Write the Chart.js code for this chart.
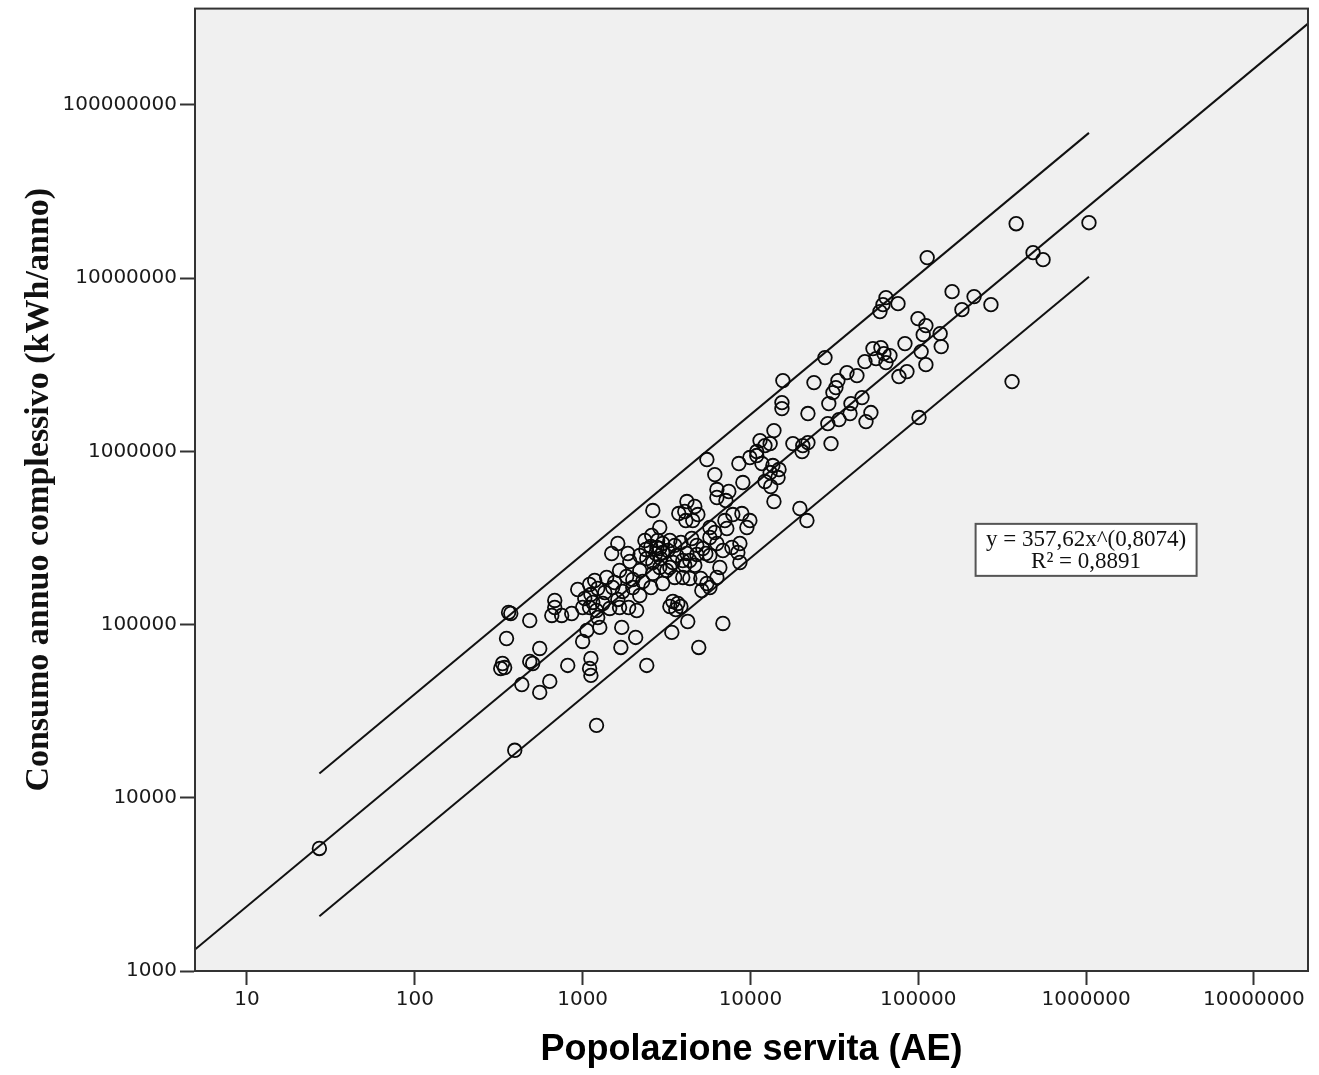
<!DOCTYPE html>
<html>
<head>
<meta charset="utf-8">
<title>Consumo vs popolazione servita</title>
<script src="https://cdn.jsdelivr.net/npm/chart.js@4.4.1/dist/chart.umd.min.js"></script>
<style>
  html, body { margin: 0; padding: 0; background: #ffffff; }
  #wrap { width: 1319px; height: 1075px; position: relative; }
</style>
</head>
<body>
<div id="wrap"><canvas id="consumoChart"></canvas></div>
<script>
// popolazione servita (AE) per impianto
const popolazione = [
  27, 333, 325, 343, 362, 373, 484, 352, 394, 434, 484, 504, 555, 555, 637, 682, 682, 655,
  750, 861, 815, 935, 1000, 1000, 1060, 1100, 1180, 1120, 1230, 1150, 1100, 1210, 1120, 1100,
  1120, 1210, 1265, 1230, 1320, 1390, 1450, 1510, 1490, 1620, 1620, 1550, 1660, 1660, 1710, 1690,
  1730, 1860, 1910, 1830, 1880, 1990, 1990, 2100, 2070, 2190, 2190, 2280, 2550, 2410, 2380, 2550,
  2580, 2800, 2770, 2620, 2410, 2730, 2620, 2920, 2880, 2620, 3000, 2880, 3000, 3220, 3170, 3310,
  3450, 3640, 3310, 3540, 3950, 3740, 4180, 4660, 4060, 4860, 4120, 4530, 4060, 3850, 4470, 4790,
  5200, 5420, 4790, 4180, 3950, 4350, 5060, 5500, 5130, 3450, 3690, 3850, 3590, 3310, 4230, 3400,
  4920, 5500, 6130, 6310, 7430, 6310, 7140, 7850, 7040, 8890, 9920, 9520, 7230, 6130, 5730, 5730,
  6310, 6850, 5730, 6310, 6570, 7750, 8650, 8410, 8650, 6850, 8530, 9920, 10900, 11700, 9010, 10900,
  11400, 12200, 13100, 12200, 13200, 13600, 13100, 14800, 14600, 13800, 13800, 15600, 15400, 15400,
  17900, 20500, 22000, 20300, 19700, 21700, 22000, 23900, 27800, 29300, 30200, 33200, 32300, 31000,
  28900, 33700, 37600, 43100, 39200, 39700, 46200, 48800, 52200, 48100, 53700, 56000, 59900, 62400,
  67800, 64200, 64200, 61600, 59100, 75700, 76700, 85600, 83300, 99600, 111000, 107000, 135000,
  137000, 104000, 111000, 101000, 113000, 159000, 215000, 182000, 271000, 383000, 1040000, 483000,
  554000, 362000, 2350, 3000, 4350, 2880, 3540, 2190, 4660, 5730, 1030, 1355
];

// consumo annuo complessivo (kWh/anno)
const consumo = [
  5100, 59600, 55800, 56500, 117500, 115900, 105600, 83100, 18800, 45100, 61300, 59600, 72800, 40600,
  47000, 137800, 125500, 112900, 112900, 115900, 58100, 159400, 79900, 125500, 92500, 170400, 179700,
  149100, 161600, 134200, 125500, 120600, 63700, 55800, 50900, 26200, 96300, 109900, 132400, 187100,
  123900, 163700, 257300, 293900, 139700, 175000, 205300, 125500, 96300, 73800, 155300, 257300, 231300,
  189600, 125500, 182100, 163700, 120600, 84300, 147200, 205300, 177400, 163700, 58100, 271300, 282400,
  326900, 305800, 278700, 455500, 240700, 257300, 228300, 240700, 213700, 197300, 172700, 363500,
  293900, 267700, 205300, 305800, 228300, 250600, 213700, 187100, 187100, 437700, 513400, 480700,
  449600, 431800, 398800, 398800, 219900, 297900, 314100, 286700, 275000, 257300, 253800, 257300,
  234400, 184600, 184600, 172700, 157300, 136000, 132400, 127200, 122200, 127200, 104200, 90100,
  73800, 897000, 734600, 602100, 586400, 541500, 520200, 431800, 398800, 437700, 398800, 363500,
  358600, 340100, 363500, 318300, 293900, 267700, 163700, 187100, 213700, 278700, 293900, 260700,
  228300, 101500, 850600, 921400, 946000, 850600, 660900, 997600, 1154000, 1080000, 1109000, 669700,
  626800, 828500, 754700, 785400, 706300, 513400, 1318000, 2562000, 1913000, 1766000, 1109000,
  1080000, 1124000, 997600, 467800, 398800, 1653000, 2495000, 3479000, 1887000, 1109000, 2562000,
  2335000, 2185000, 1447000, 1526000, 2850000, 2739000, 1653000, 1887000, 2044000, 1486000, 1675000,
  3299000, 3920000, 3432000, 3973000, 3668000, 3573000, 3255000, 7721000, 7031000, 6410000, 7128000,
  2703000, 2888000, 4189000, 5840000, 5322000, 4719000, 4784000, 4027000, 3767000, 3168000, 1568000,
  13140000, 8361000, 7825000, 6582000, 7031000, 20630000, 20910000, 14040000, 12790000, 2529000,
  305800, 260700, 234400, 274900, 286700, 250600, 219900, 250600, 141500, 153200
];

// retta di regressione e limiti
const fitX = [4.9, 21000000];
const fitY = [1330, 295000000];
const upperX = [27, 1040000];
const upperY = [13800, 69000000];
const lowerX = [27, 1040000];
const lowerY = [2070, 10200000];

const xTicks = [10, 100, 1000, 10000, 100000, 1000000, 10000000];
const yTicks = [1000, 10000, 100000, 1000000, 10000000, 100000000];

const equationText = ['y = 357,62x^(0,8074)', 'R\u00B2 = 0,8891'];
const equationAt = { x: 1000000, y: 270000 };

const toPoints = (xs, ys) => xs.map((x, i) => ({ x: x, y: ys[i] }));

// sfondo grigio e cornice dell'area del grafico
const plotFrame = {
  id: 'plotFrame',
  beforeDraw(chart) {
    const { ctx, chartArea: a } = chart;
    ctx.save();
    ctx.fillStyle = '#f0f0f0';
    ctx.fillRect(a.left, a.top, a.right - a.left, a.bottom - a.top);
    ctx.restore();
  },
  afterDraw(chart) {
    const { ctx, chartArea: a } = chart;
    ctx.save();
    ctx.strokeStyle = '#333333';
    ctx.lineWidth = 2;
    ctx.strokeRect(a.left, a.top, a.right - a.left, a.bottom - a.top);
    ctx.restore();
  }
};

// riquadro con l'equazione
const equationBox = {
  id: 'equationBox',
  afterDatasetsDraw(chart) {
    const { ctx, scales } = chart;
    const cx = scales.x.getPixelForValue(equationAt.x);
    const cy = scales.y.getPixelForValue(equationAt.y);
    const w = 221, h = 52;
    ctx.save();
    ctx.fillStyle = '#ffffff';
    ctx.fillRect(cx - w / 2, cy - h / 2, w, h);
    ctx.strokeStyle = '#555555';
    ctx.lineWidth = 2;
    ctx.strokeRect(cx - w / 2, cy - h / 2, w, h);
    ctx.fillStyle = '#111111';
    ctx.font = '23px "Liberation Serif"';
    ctx.textAlign = 'center';
    ctx.textBaseline = 'middle';
    ctx.fillText(equationText[0], cx, cy - 10, w - 2);
    ctx.fillText(equationText[1], cx, cy + 12);
    ctx.restore();
  }
};

const lineStyle = {
  showLine: true,
  pointRadius: 0,
  borderColor: '#111111',
  borderWidth: 2,
  fill: false
};

new Chart(document.getElementById('consumoChart'), {
  type: 'scatter',
  data: {
    datasets: [
      {
        label: 'Impianti',
        data: toPoints(popolazione, consumo),
        pointStyle: 'circle',
        pointRadius: 6.8,
        borderWidth: 1.8,
        borderColor: '#0a0a0a',
        backgroundColor: 'rgba(0, 0, 0, 0)'
      },
      Object.assign({ label: 'Regressione', data: toPoints(fitX, fitY) }, lineStyle),
      Object.assign({ label: 'Limite superiore', data: toPoints(upperX, upperY) }, lineStyle),
      Object.assign({ label: 'Limite inferiore', data: toPoints(lowerX, lowerY) }, lineStyle)
    ]
  },
  options: {
    responsive: true,
    maintainAspectRatio: false,
    animation: false,
    devicePixelRatio: 1,
    layout: { padding: { top: 8, right: 11, left: 0, bottom: 0 } },
    plugins: {
      legend: { display: false },
      tooltip: { enabled: false }
    },
    scales: {
      x: {
        type: 'logarithmic',
        min: 4.9,
        max: 21000000,
        afterBuildTicks: (scale) => { scale.ticks = xTicks.map(v => ({ value: v })); },
        afterFit: (scale) => {
          scale.height = 104;
          scale.paddingLeft = 0;
          scale.paddingRight = 0;
        },
        ticks: {
          callback: (v) => String(v),
          font: { family: 'DejaVu Sans', size: 20 },
          color: '#1a1a1a',
          padding: 3,
          maxRotation: 0,
          autoSkip: false
        },
        grid: { drawOnChartArea: false, tickLength: 14, tickWidth: 2, tickColor: '#333333' },
        border: { color: '#333333', width: 2 },
        title: {
          display: true,
          text: 'Popolazione servita (AE)',
          font: { family: 'Liberation Sans', size: 36, weight: 'bold' },
          color: '#000000',
          padding: { top: 0, bottom: 3 }
        }
      },
      y: {
        type: 'logarithmic',
        min: 1000,
        max: 360000000,
        afterBuildTicks: (scale) => { scale.ticks = yTicks.map(v => ({ value: v })); },
        afterFit: (scale) => {
          scale.width = 195;
          scale.paddingTop = 0;
          scale.paddingBottom = 0;
        },
        ticks: {
          callback: (v) => String(v),
          font: { family: 'DejaVu Sans', size: 20 },
          color: '#1a1a1a',
          padding: 3,
          autoSkip: false
        },
        grid: { drawOnChartArea: false, tickLength: 15, tickWidth: 2, tickColor: '#333333' },
        border: { color: '#333333', width: 2 },
        title: {
          display: true,
          text: 'Consumo annuo complessivo (kWh/anno)',
          font: { family: 'Liberation Serif', size: 34, weight: 'bold' },
          color: '#111111',
          padding: { top: 19, bottom: 0 }
        }
      }
    }
  },
  plugins: [plotFrame, equationBox]
});
</script>
</body>
</html>
